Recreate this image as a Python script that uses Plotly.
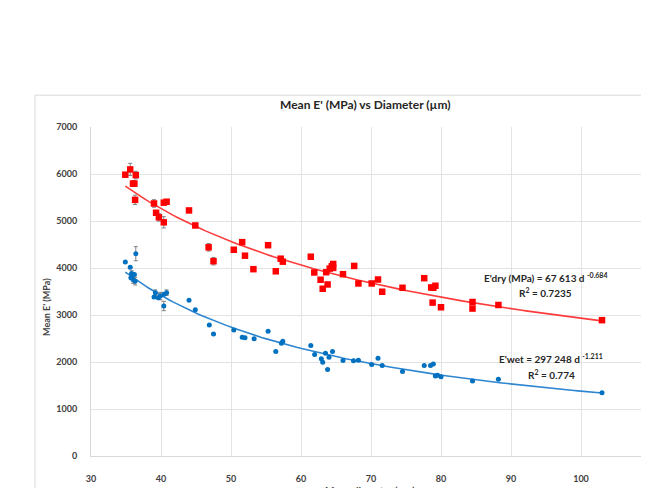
import numpy as np
import plotly.graph_objects as go

# ---- data ----
dry_d = [34.9, 35.6, 36.4, 36.0, 36.2, 36.3, 39.0, 39.3, 39.7, 40.4, 40.4, 40.8,
         44.0, 44.9, 46.8, 47.5, 50.4, 51.6, 52.0, 53.2, 55.3, 56.4, 57.1, 57.4,
         61.4, 61.9, 62.8, 63.1, 63.6, 63.8, 64.1, 64.4, 64.6, 64.6, 66.0, 67.6,
         68.2, 70.1, 71.0, 71.6, 74.5, 77.6, 78.6, 78.9, 79.2, 78.8, 80.0, 84.5,
         84.5, 88.2, 103.0]
dry_e = [5985, 6097, 5977, 5795, 5795, 5450, 5373, 5175, 5078, 4972, 5390, 5410,
         5225, 4905, 4440, 4145, 4388, 4550, 4262, 3975, 4485, 3930, 4198, 4135,
         4240, 3905, 3750, 3558, 3910, 3650, 3987, 4036, 4086, 4002, 3868, 4044,
         3671, 3671, 3755, 3495, 3579, 3783, 3586, 3579, 3622, 3264, 3165, 3277,
         3137, 3213, 2890]
dry_err = [0, 130, 80, 60, 60, 100, 80, 0, 80, 120, 0, 0,
           0, 0, 80, 80, 0, 0, 0, 0, 0, 0, 0, 0,
           0, 0, 0, 0, 0, 0, 0, 0, 0, 0, 0, 0,
           0, 0, 0, 0, 0, 0, 0, 0, 0, 0, 0, 0,
           0, 0, 0]

wet_d = [34.9, 35.6, 36.4, 35.8, 36.2, 35.7, 36.0, 36.3, 39.2, 39.0, 39.6, 39.9,
         40.4, 40.8, 40.4, 44.0, 44.9, 46.9, 47.5, 50.4, 51.6, 52.0, 53.3, 55.3,
         56.4, 57.2, 57.4, 61.4, 61.95, 62.9, 63.1, 63.5, 63.8, 64.0, 64.5, 66.0,
         67.5, 68.2, 70.1, 71.0, 71.6, 74.5, 77.6, 78.5, 78.9, 79.2, 79.5, 80.0,
         84.5, 88.2, 103.0]
wet_e = [4128, 4015, 4304, 3882, 3861, 3791, 3755, 3720, 3474, 3382, 3369, 3403,
         3439, 3474, 3192, 3312, 3110, 2785, 2598, 2679, 2528, 2514, 2497, 2652,
         2222, 2398, 2441, 2349, 2158, 2068, 1997, 2187, 1842, 2103, 2222, 2032,
         2025, 2039, 1947, 2082, 1926, 1800, 1926, 1926, 1956, 1702, 1716, 1688,
         1597, 1631, 1344]
wet_err = [0, 0, 150, 60, 0, 0, 80, 80, 60, 0, 0, 80,
           0, 60, 100, 0, 0, 0, 0, 0, 0, 0, 0, 0,
           0, 0, 0, 0, 0, 0, 0, 0, 0, 0, 0, 0,
           0, 0, 0, 0, 0, 0, 0, 0, 0, 0, 0, 0,
           0, 0, 0]

x_ticks = [30, 40, 50, 60, 70, 80, 90, 100, 110]
y_ticks = [0, 1000, 2000, 3000, 4000, 5000, 6000, 7000]

title_text = "Mean E' (MPa) vs Diameter (µm)"
y_title = "Mean E' (MPa)"
x_title = "Mean diameter (µm)"
dry_eq = "E'dry (MPa) = 67 613 d <sup>-0.684</sup>"
dry_r2 = "R<sup>2</sup> = 0.7235"
wet_eq = "E'wet = 297 248 d <sup>-1.211</sup>"
wet_r2 = "R<sup>2</sup> = 0.774"

# ---- power-law trendlines fitted to the data (like Excel) ----
def power_fit(d, e):
    b, a = np.polyfit(np.log(d), np.log(e), 1)
    xs = np.linspace(min(d), max(d), 120)
    return xs, np.exp(a) * xs ** b

dxs, dys = power_fit(dry_d, dry_e)
wxs, wys = power_fit(wet_d, wet_e)

FONT = "Lato, 'Open Sans', sans-serif"
RED = "#FF0000"
BLUE = "#0070C0"

# page geometry (page has an 8px body margin)
PL, PR = 91, 651     # page x of x=30 and x=110
PT, PB = 127, 458    # page y of y=7000 and y=0
PW, PH = PR - PL, PB - PT


def px(x):
    return (x - PL) / PW


def py(y):
    return (PB - y) / PH


fig = go.Figure()
fig.add_trace(go.Scatter(x=dxs, y=dys, mode="lines",
                         line=dict(color="#FF3B3B", width=1.6), hoverinfo="skip"))
fig.add_trace(go.Scatter(x=wxs, y=wys, mode="lines",
                         line=dict(color="#2E86D1", width=1.6), hoverinfo="skip"))
fig.add_trace(go.Scatter(x=dry_d, y=dry_e, mode="markers",
                         marker=dict(symbol="square", size=6.5, color=RED),
                         error_y=dict(type="data", array=dry_err, color="#7f7f7f",
                                      thickness=1, width=2)))
fig.add_trace(go.Scatter(x=wet_d, y=wet_e, mode="markers",
                         marker=dict(symbol="circle", size=5, color=BLUE),
                         error_y=dict(type="data", array=wet_err, color="#7f7f7f",
                                      thickness=1, width=2)))

ann_font = dict(family=FONT, size=10, color="#262626", weight="bold")
annotations = [
    dict(text=title_text, xref="paper", yref="paper", x=px(365), y=py(104),
         showarrow=False, xanchor="center", yanchor="middle",
         font=dict(family=FONT, size=12, color="#262626", weight="bold")),
    dict(text=y_title, xref="paper", yref="paper", x=px(47), y=py(308),
         showarrow=False, textangle=-90, xanchor="center", yanchor="middle",
         font=dict(family=FONT, size=9, color="#404040", weight="bold")),
    dict(text=x_title, xref="paper", yref="paper", x=px(370), y=py(484),
         showarrow=False, xanchor="center", yanchor="top",
         font=dict(family=FONT, size=10, color="#404040", weight="bold")),
    dict(text=dry_eq, xref="paper", yref="paper", x=px(545), y=py(278),
         showarrow=False, xanchor="center", yanchor="middle", font=ann_font),
    dict(text=dry_r2, xref="paper", yref="paper", x=px(545), y=py(294),
         showarrow=False, xanchor="center", yanchor="middle", font=ann_font),
    dict(text=wet_eq, xref="paper", yref="paper", x=px(551), y=py(360),
         showarrow=False, xanchor="center", yanchor="middle", font=ann_font),
    dict(text=wet_r2, xref="paper", yref="paper", x=px(551), y=py(376),
         showarrow=False, xanchor="center", yanchor="middle", font=ann_font),
]

fig.update_layout(
    width=670, height=488,
    margin=dict(l=PL - 8, r=670 - (PR - 8), t=PT - 8, b=488 - (PB - 8)),
    paper_bgcolor="white", plot_bgcolor="white",
    showlegend=False,
    annotations=annotations,
    shapes=[dict(type="rect", xref="paper", yref="paper",
                 x0=px(35), x1=1.2, y0=-0.3, y1=py(95),
                 line=dict(color="#d9d9d9", width=1), layer="below")],
    xaxis=dict(range=[30, 110], tickvals=x_ticks, ticktext=[str(v) for v in x_ticks],
               showgrid=True, gridcolor="#e3e3e3", gridwidth=1,
               showline=True, linecolor="#d9d9d9", zeroline=False, ticks="",
               ticklabelstandoff=14,
               tickfont=dict(family=FONT, size=9, color="#404040", weight="bold")),
    yaxis=dict(range=[0, 7000], tickvals=y_ticks, ticktext=[str(v) for v in y_ticks],
               showgrid=True, gridcolor="#e3e3e3", gridwidth=1,
               showline=True, linecolor="#d9d9d9", zeroline=False, ticks="",
               ticklabelstandoff=11,
               tickfont=dict(family=FONT, size=9, color="#404040", weight="bold")),
)

fig.write_html("out.html")
